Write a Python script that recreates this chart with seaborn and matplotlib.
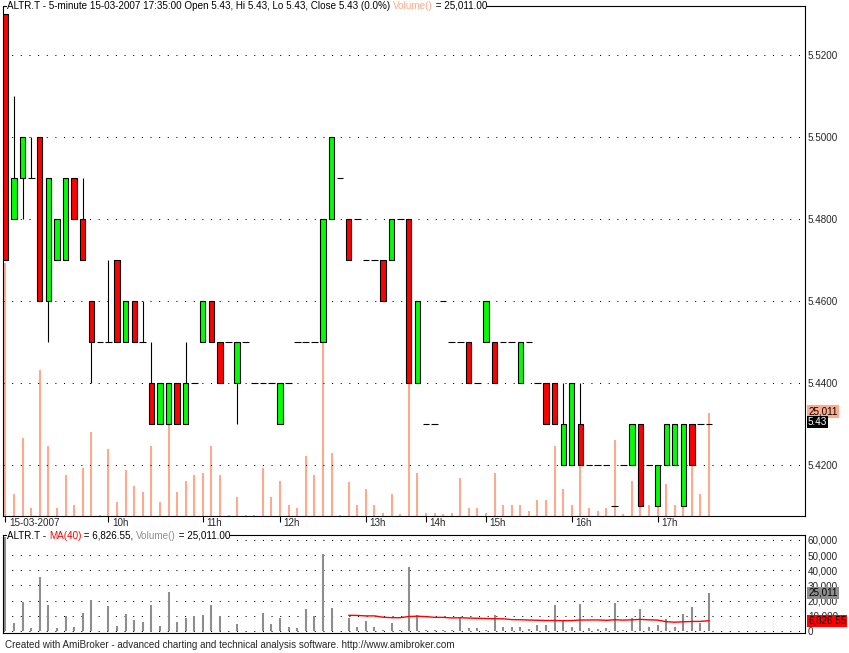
import numpy as np
import pandas as pd
import seaborn as sns
import matplotlib.pyplot as plt
from matplotlib import transforms

# 5-minute bars, ALTR.T, 15-03-2007
opens = [5.53, 5.48, 5.49, 5.49, 5.50, 5.46, 5.47, 5.47, 5.49, 5.48,
         5.46, 5.45, 5.45, 5.47, 5.45, 5.46, 5.45, 5.44, 5.43, 5.43,
         5.44, 5.43, 5.44, 5.45, 5.46, 5.45, 5.45, 5.44, 5.45, 5.44,
         5.44, 5.44, 5.43, 5.44, 5.45, 5.45, 5.45, 5.45, 5.48, 5.49,
         5.48, 5.48, 5.47, 5.47, 5.47, 5.47, 5.48, 5.48, 5.44, 5.43,
         5.43, 5.46, 5.45, 5.45, 5.45, 5.44, 5.45, 5.45, 5.45, 5.45,
         5.44, 5.45, 5.44, 5.44, 5.44, 5.42, 5.42, 5.43, 5.42, 5.42,
         5.42, 5.41, 5.42, 5.42, 5.43, 5.42, 5.41, 5.42, 5.42, 5.41,
         5.43, 5.43, 5.43]
highs = [5.53, 5.51, 5.50, 5.50, 5.50, 5.49, 5.48, 5.49, 5.49, 5.49,
         5.46, 5.45, 5.47, 5.47, 5.46, 5.46, 5.46, 5.45, 5.44, 5.44,
         5.44, 5.45, 5.44, 5.46, 5.46, 5.45, 5.45, 5.45, 5.45, 5.44,
         5.44, 5.44, 5.44, 5.44, 5.45, 5.45, 5.45, 5.48, 5.50, 5.49,
         5.48, 5.48, 5.47, 5.47, 5.47, 5.48, 5.48, 5.48, 5.46, 5.43,
         5.43, 5.46, 5.45, 5.45, 5.45, 5.44, 5.46, 5.45, 5.45, 5.45,
         5.45, 5.45, 5.44, 5.44, 5.44, 5.44, 5.44, 5.44, 5.42, 5.42,
         5.42, 5.41, 5.42, 5.43, 5.43, 5.42, 5.42, 5.43, 5.43, 5.43,
         5.43, 5.43, 5.43]
lows = [5.47, 5.48, 5.48, 5.49, 5.46, 5.45, 5.47, 5.47, 5.48, 5.47,
        5.44, 5.45, 5.45, 5.45, 5.45, 5.45, 5.45, 5.43, 5.43, 5.43,
        5.43, 5.43, 5.44, 5.45, 5.45, 5.44, 5.45, 5.43, 5.45, 5.44,
        5.44, 5.44, 5.43, 5.44, 5.45, 5.45, 5.45, 5.45, 5.48, 5.49,
        5.47, 5.48, 5.47, 5.47, 5.46, 5.47, 5.48, 5.44, 5.44, 5.43,
        5.43, 5.46, 5.45, 5.45, 5.44, 5.44, 5.45, 5.44, 5.45, 5.45,
        5.44, 5.45, 5.44, 5.43, 5.43, 5.42, 5.42, 5.42, 5.42, 5.42,
        5.42, 5.41, 5.42, 5.42, 5.41, 5.42, 5.41, 5.42, 5.42, 5.41,
        5.42, 5.43, 5.43]
closes = [5.47, 5.49, 5.50, 5.49, 5.46, 5.49, 5.48, 5.49, 5.48, 5.47,
          5.45, 5.45, 5.45, 5.45, 5.46, 5.45, 5.45, 5.43, 5.44, 5.44,
          5.43, 5.44, 5.44, 5.46, 5.45, 5.44, 5.45, 5.45, 5.45, 5.44,
          5.44, 5.44, 5.44, 5.44, 5.45, 5.45, 5.45, 5.48, 5.50, 5.49,
          5.47, 5.48, 5.47, 5.47, 5.46, 5.48, 5.48, 5.44, 5.46, 5.43,
          5.43, 5.46, 5.45, 5.45, 5.44, 5.44, 5.46, 5.44, 5.45, 5.45,
          5.45, 5.45, 5.44, 5.43, 5.43, 5.43, 5.44, 5.42, 5.42, 5.42,
          5.42, 5.41, 5.42, 5.43, 5.41, 5.42, 5.42, 5.43, 5.43, 5.43,
          5.42, 5.43, 5.43]
volumes = [61600, 5300, 19100, 2000, 35500, 17100, 2000, 9900, 2600, 11800,
           20400, 300, 16400, 3300, 11200, 7200, 5900, 17100, 3300, 25700,
           5900, 8600, 9900, 10500, 17100, 9900, 300, 4600, 300, 300,
           11800, 4600, 8600, 2600, 2000, 14500, 9900, 50900, 15300, 300,
           8300, 2600, 6600, 2600, 660, 5300, 600, 42000, 10500, 660,
           660, 600, 660, 9200, 1970, 1970, 660, 10500, 2630, 2630,
           2630, 1320, 3950, 3950, 17100, 6600, 2630, 17800, 1970, 1320,
           1970, 18400, 600, 8550, 14500, 2630, 3950, 7900, 2630, 11200,
           15800, 5260, 25011]

hour_pos = [0, 12, 23, 32, 42, 49, 56, 66, 76]
hour_labels = ['15-03-2007', '10h', '11h', '12h', '13h', '14h', '15h', '16h', '17h']
price_ticks = [5.42, 5.44, 5.46, 5.48, 5.50, 5.52]
price_tick_labels = ['5.4200', '5.4400', '5.4600', '5.4800', '5.5000', '5.5200']
vol_ticks = [0, 10000, 20000, 30000, 40000, 50000, 60000]
vol_tick_labels = ['0', '10,000', '20,000', '30,000', '40,000', '50,000', '60,000']
ma_label = '6,826.55'

df = pd.DataFrame({'o': opens, 'h': highs, 'l': lows, 'c': closes, 'v': volumes})
df['bar'] = np.arange(len(df))
df['ma'] = df['v'].rolling(40).mean()

SALMON = '#FFAA8C'
GRAY = '#8E8E8E'
FS = 7.1

sns.set_style('white')
plt.rcParams['font.family'] = ['Liberation Sans', 'DejaVu Sans']
plt.rcParams['font.size'] = FS

W, H = 849, 653
fig = plt.figure(figsize=(W / 100, H / 100), dpi=100)


def rect(l, t, r, b):
    return [l / W, 1 - b / H, (r - l) / W, (b - t) / H]


xlim = (-0.29, 93.18)

# volume overlay behind the candles
axpv = fig.add_axes(rect(3, 5.7, 805, 516))
axpv.axis('off')
axpv.set_xlim(*xlim)
axpv.set_ylim(0, 124300)
axpv.vlines(df['bar'], 0, df['v'], color=SALMON, lw=1.5)

ax = fig.add_axes(rect(3, 5.7, 805, 516))
ax.patch.set_visible(False)
ax.set_xlim(*xlim)
ax.set_ylim(5.40756, 5.53202)

up = df[df['c'] > df['o']]
dn = df[df['c'] < df['o']]
dj = df[df['c'] == df['o']]
ax.vlines(df['bar'], df['l'], df['h'], color='black', lw=0.8, zorder=2)
ax.bar(up['bar'], up['c'] - up['o'], bottom=up['o'], width=0.62,
       color='#00FF00', edgecolor='black', lw=0.8, zorder=3)
ax.bar(dn['bar'], dn['o'] - dn['c'], bottom=dn['c'], width=0.62,
       color='#FF0000', edgecolor='black', lw=0.8, zorder=3)
ax.hlines(dj['c'], dj['bar'] - 0.39, dj['bar'] + 0.39, color='black', lw=0.8, zorder=3)

ax.yaxis.tick_right()
ax.set_yticks(price_ticks)
ax.set_yticklabels(price_tick_labels)
ax.tick_params(axis='y', length=0, pad=2, labelsize=FS)
ax.grid(axis='y', color='black', linestyle=(0, (1, 7.3)), lw=0.75)
ax.set_xticks(hour_pos)
ax.set_xticklabels([])
ax.tick_params(axis='x', direction='out', length=4, width=0.8, color='black', bottom=True)
for s in ax.spines.values():
    s.set_color('black')
    s.set_linewidth(0.8)

xt = transforms.offset_copy(transforms.blended_transform_factory(ax.transData, ax.transAxes),
                            fig=fig, x=3.5, y=-1.5, units='dots')
for p, lbl in zip(hour_pos, hour_labels):
    ax.text(p, 0, lbl, transform=xt, ha='left', va='top', fontsize=FS)

# value boxes at the right of the price pane
rv = transforms.offset_copy(transforms.blended_transform_factory(axpv.transAxes, axpv.transData),
                            fig=fig, x=3, y=2, units='dots')
axpv.text(1, volumes[-1], f'{volumes[-1]:,}', transform=rv, va='center', ha='left',
          fontsize=FS, color='black', clip_on=False,
          bbox=dict(boxstyle='square,pad=0.12', fc=SALMON, ec='none'))
rp = transforms.offset_copy(transforms.blended_transform_factory(ax.transAxes, ax.transData),
                            fig=fig, x=3, y=2, units='dots')
ax.text(1, closes[-1], f'{closes[-1]:.2f}', transform=rp, va='center', ha='left',
        fontsize=FS, color='white', clip_on=False,
        bbox=dict(boxstyle='square,pad=0.12', fc='black', ec='none'))

# volume pane
axv = fig.add_axes(rect(3, 535, 805, 633))
axv.set_xlim(*xlim)
axv.set_ylim(-1316, 63160)
axv.vlines(df['bar'], 0, df['v'], color=GRAY, lw=1.5)
ma = df[df['bar'] >= 40]
sns.lineplot(data=ma, x='bar', y='ma', ax=axv, color='red', lw=1, estimator=None)
axv.set_xlabel('')
axv.set_ylabel('')
axv.set_xticks([])
axv.yaxis.tick_right()
axv.set_yticks(vol_ticks)
axv.set_yticklabels(vol_tick_labels)
axv.tick_params(axis='y', length=0, pad=2, labelsize=FS)
axv.grid(axis='y', color='black', linestyle=(0, (1, 7.3)), lw=0.75)
for s in axv.spines.values():
    s.set_color('black')
    s.set_linewidth(0.8)

rv2 = transforms.offset_copy(transforms.blended_transform_factory(axv.transAxes, axv.transData),
                             fig=fig, x=3, y=0, units='dots')
axv.text(1, volumes[-1], f'{volumes[-1]:,}', transform=rv2, va='center', ha='left',
         fontsize=FS, color='black', clip_on=False, zorder=5,
         bbox=dict(boxstyle='square,pad=0.12', fc=GRAY, ec='none'))
axv.text(1, df['ma'].iloc[-1], ma_label, transform=rv2, va='center', ha='left',
         fontsize=FS, color='black', clip_on=False, zorder=5,
         bbox=dict(boxstyle='square,pad=0.12', fc='#FF0000', ec='none'))


def chain(owner, x_px, y_px, pieces):
    box = dict(boxstyle='square,pad=0', fc='white', ec='none')
    t = fig.text(x_px / W, 1 - y_px / H, pieces[0][0], color=pieces[0][1],
                 ha='left', va='center', fontsize=FS, bbox=box)
    for s, c in pieces[1:]:
        t = owner.annotate(s, xy=(1, 0), xycoords=t, ha='left', va='bottom', color=c,
                           fontsize=FS, bbox=box, annotation_clip=False, zorder=6)


chain(ax, 7, 5.7, [('ALTR.T - 5-minute 15-03-2007 17:35:00 Open 5.43, Hi 5.43, Lo 5.43, '
                    'Close 5.43 (0.0%) ', 'black'),
                   ('Volume()', SALMON), (' = 25,011.00', 'black')])
chain(axv, 7, 536, [('ALTR.T - ', 'black'), ('MA(40)', 'red'), (' = ' + ma_label + ', ', 'black'),
                    ('Volume()', GRAY), (' = 25,011.00', 'black')])

fig.text(5 / W, 1 - 645 / H, 'Created with AmiBroker - advanced charting and technical '
         'analysis software. http://www.amibroker.com', ha='left', va='center', fontsize=FS)

fig.savefig('out.png', dpi=100)
